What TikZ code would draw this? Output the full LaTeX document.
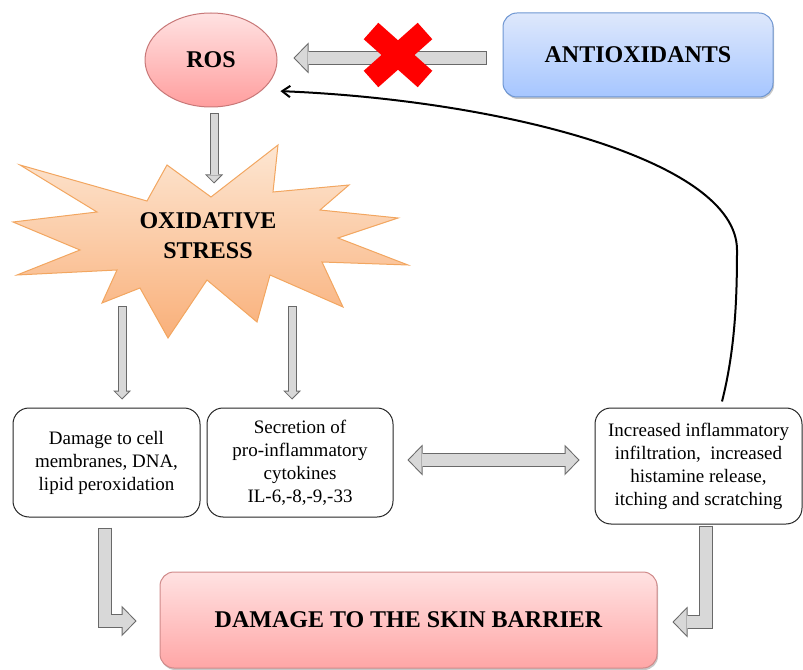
\documentclass[tikz,border=0pt]{standalone}
\usepackage{fontspec}
\setmainfont{Liberation Serif}
\usetikzlibrary{arrows.meta,shapes.geometric,shadows,calc}

\definecolor{rostop}{RGB}{255,226,226}
\definecolor{rosbot}{RGB}{255,158,158}
\definecolor{rosline}{RGB}{200,120,120}
\definecolor{antitop}{RGB}{222,232,252}
\definecolor{antibot}{RGB}{166,198,255}
\definecolor{antiline}{RGB}{110,150,210}
\definecolor{startop}{RGB}{253,230,210}
\definecolor{starbot}{RGB}{249,176,122}
\definecolor{starline}{RGB}{242,166,96}
\definecolor{skintop}{RGB}{255,226,226}
\definecolor{skinbot}{RGB}{255,166,166}
\definecolor{skinline}{RGB}{208,138,138}
\definecolor{arrline}{RGB}{105,105,105}
\definecolor{arrfill}{RGB}{216,216,216}

\tikzset{
  bigtext/.style={font=\fontsize{18}{22.5}\selectfont\bfseries, align=center},
  boxtext/.style={font=\fontsize{14.25}{17.25}\selectfont, align=center},
  cellbox/.style={draw=black!85, line width=0.75pt, rounded corners=12pt, fill=white, boxtext, inner sep=0pt},
  softshadow/.style={drop shadow={fill=black, opacity=0.22, shadow xshift=0.8pt, shadow yshift=-1.5pt}},
  smallarr/.style={line width=6.75pt, draw=arrline, -{Triangle[length=6.75pt,width=13.5pt,line width=0pt]},
    postaction={draw=arrfill, line width=5.25pt, shorten <=0.75pt, shorten >=1.06pt,
      -{Triangle[length=4.94pt,width=9.9pt,line width=0pt]}}},
  bigarr/.style={line width=10.5pt, draw=arrline, -{Triangle[length=11.25pt,width=23.25pt,line width=0pt]},
    postaction={draw=arrfill, line width=9pt, shorten <=0.75pt, shorten >=1.04pt,
      -{Triangle[length=9.46pt,width=19.5pt,line width=0pt]}}},
  dblarr/.style={line width=10.5pt, draw=arrline,
    {Triangle[length=11.25pt,width=23.25pt,line width=0pt]}-{Triangle[length=11.25pt,width=23.25pt,line width=0pt]},
    postaction={draw=arrfill, line width=9pt, shorten <=1.04pt, shorten >=1.04pt,
      {Triangle[length=9.46pt,width=19.5pt,line width=0pt]}-{Triangle[length=9.46pt,width=19.5pt,line width=0pt]}}},
  backarr/.style={line width=1.5pt, draw=black, -{Straight Barb[length=6pt,width=8.5pt]}},
  nomark/.style={draw=red, line width=16.5pt}
}

\begin{document}
\begin{tikzpicture}[x=0.75pt,y=0.75pt,yscale=-1,xscale=1]
    \useasboundingbox (0,0) rectangle (803,670);

    %Shape: Star [id:starburst]
    \draw [draw=starline, line width=0.75pt, top color=startop, bottom color=starbot]
      (20,165) -- (147,201) -- (167,165) -- (211,197) -- (278,145) -- (273,192) -- (349,185)
      -- (320,210) -- (398,218) -- (338,238) -- (408,265) -- (322,262) -- (343,307)
      -- (270,275) -- (257,322) -- (207,280) -- (168,338) -- (140,288) -- (102,303)
      -- (117,270) -- (17,275) -- (80,250) -- (13,222) -- (97,212) -- cycle ;

    % Text Node
    \node [ellipse, draw=rosline, line width=0.75pt, top color=rostop, bottom color=rosbot,
      minimum width=99pt, minimum height=70.5pt, inner sep=0pt, bigtext] (ros) at (211,60) {ROS};
    % Text Node
    \node [draw=antiline, line width=0.75pt, rounded corners=10.5pt, top color=antitop, bottom color=antibot,
      softshadow, minimum width=202.5pt, minimum height=63pt, inner sep=0pt, bigtext] (anti) at (638,55) {ANTIOXIDANTS};
    % Text Node
    \node [bigtext, inner sep=0pt] (ox) at (208,236) {OXIDATIVE\\STRESS};
    % Text Node
    \node [cellbox, minimum width=140.25pt, minimum height=81.75pt] (cell) at (106.5,462.5)
      {Damage to cell\\membranes, DNA,\\lipid peroxidation};
    % Text Node
    \node [cellbox, minimum width=139.5pt, minimum height=81.75pt] (cyto) at (300,462.5)
      {Secretion of\\pro-inflammatory\\cytokines\\IL-6,-8,-9,-33};
    % Text Node
    \node [cellbox, minimum width=155.25pt, minimum height=87pt] (itch) at (698.5,466)
      {Increased inflammatory\\infiltration,\ \ increased\\histamine release,\\itching and scratching};
    % Text Node
    \node [draw=skinline, line width=0.75pt, rounded corners=10.5pt, top color=skintop, bottom color=skinbot,
      softshadow, minimum width=372.75pt, minimum height=72pt, inner sep=0pt, bigtext] (skin) at (408.5,620)
      {DAMAGE TO THE SKIN BARRIER};

    %Block Arrows
    \draw [bigarr] ($(anti.west)+(-16,3)$) -- ($(ros.east)+(16,-2)$) ;
    \draw [smallarr] ($(ros.south)+(3,6)$) -- ++(0,70) ;
    \draw [smallarr] ($(cell.north)+(15.5,-101)$) -- ($(cell.north)+(15.5,-8)$) ;
    \draw [smallarr] ($(cyto.north)+(-8,-101)$) -- ($(cyto.north)+(-8,-8)$) ;
    \draw [dblarr] ($(cyto.east)+(14,-2.5)$) -- ($(itch.west)+(-15,-6)$) ;
    \draw [bigarr] ($(cell.south)+(-1.5,10)$) |- ($(skin.west)+(-23,1)$) ;
    \draw [bigarr] ($(itch.south)+(7.5,1)$) |- ($(skin.east)+(15,2)$) ;

    %Shape: Cross
    \draw [nomark] (371,31) -- (425,79) (371,79) -- (425,31) ;

    %Curve Lines
    \draw [backarr] ($(itch.north)+(23.5,-6)$) .. controls (735,350) and (737,300) .. (737,250)
      .. controls (737,160) and (500,100) .. ($(ros.-24)+(13,6)$) ;
\end{tikzpicture}
\end{document}
